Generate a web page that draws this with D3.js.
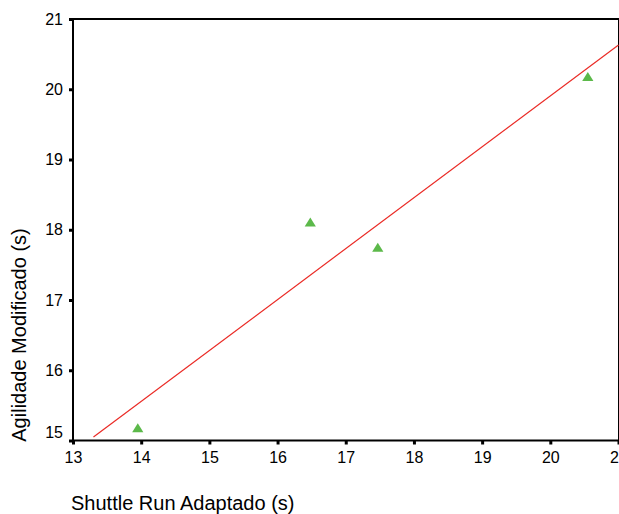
<!DOCTYPE html>
<html>
<head>
<meta charset="utf-8">
<script src="https://cdn.jsdelivr.net/npm/d3@7"></script>
<style>
  body { margin: 0; background: #fff; }
  text { font-family: "Liberation Sans", Arial, sans-serif; fill: #000; }
</style>
</head>
<body>
<div id="chart"></div>
<script>
var shuttleRun = [13.95, 16.48, 17.47, 20.55];
var agilidade = [15.18, 18.11, 17.75, 20.18];

// Fit line end points
var fitX = [13.30, 21.0];
var fitY = [15.05, 20.63];

var xTicks = [13, 14, 15, 16, 17, 18, 19, 20, 21];
var yTicks = [15, 16, 17, 18, 19, 20, 21];

var svgWidth = 619;
var svgHeight = 514;

var svg = d3.select("#chart")
  .append("svg")
  .attr("width", svgWidth)
  .attr("height", svgHeight);

// Scales
var xScale = d3.scaleLinear().domain([13, 21]).range([73, 618.5]);
var yScale = d3.scaleLinear().domain([15, 21]).range([440.5, 19]);

// frame
svg.append("rect")
  .attr("x", 73)
  .attr("y", 19)
  .attr("width", 546)
  .attr("height", 421.5)
  .attr("fill", "none")
  .attr("stroke", "#000")
  .attr("stroke-width", 2);

// x axis
var xAxis = svg.append("g")
  .attr("transform", "translate(0, 440.5)")
  .call(d3.axisBottom(xScale).tickValues(xTicks).tickSize(4).tickPadding(7).tickFormat(d3.format("d")));

// y axis
var yAxis = svg.append("g")
  .attr("transform", "translate(73, 0)")
  .call(d3.axisLeft(yScale).tickValues(yTicks).tickSize(4).tickPadding(6).tickFormat(d3.format("d")));

[xAxis, yAxis].forEach(function(ax) {
  ax.select(".domain").remove();
  ax.selectAll(".tick line").attr("stroke", "#000").attr("stroke-width", 3);
  ax.selectAll(".tick text")
    .style("font-family", "'Liberation Sans', Arial, sans-serif")
    .style("font-size", "16px")
    .attr("fill", "#000");
});

// the lowest y label sits a bit higher to clear the x labels
yAxis.selectAll(".tick text")
  .filter(function(d) { return d === 15; })
  .attr("dy", "-0.18em");

// fit line
var lineFunction = d3.line()
  .x(function(d) { return xScale(d[0]); })
  .y(function(d) { return yScale(d[1]); });

svg.append("path")
  .attr("d", lineFunction(d3.zip(fitX, fitY)))
  .attr("stroke", "#ea2b26")
  .attr("stroke-width", 1.2)
  .attr("fill", "none");

// points (triangles)
var points = d3.zip(shuttleRun, agilidade);
svg.selectAll(".pt")
  .data(points)
  .enter()
  .append("path")
  .attr("class", "pt")
  .attr("d", "M0,-4.6L5.6,4.4L-5.6,4.4Z")
  .attr("transform", function(d) { return "translate(" + xScale(d[0]) + "," + yScale(d[1]) + ")"; })
  .attr("fill", "#5cb94a");

// axis titles
svg.append("text")
  .attr("x", 71)
  .attr("y", 510)
  .style("font-size", "20px")
  .text("Shuttle Run Adaptado (s)");

svg.append("text")
  .attr("transform", "rotate(-90)")
  .attr("x", -335)
  .attr("y", 26)
  .attr("text-anchor", "middle")
  .style("font-size", "20px")
  .text("Agilidade Modificado (s)");
</script>
</body>
</html>
